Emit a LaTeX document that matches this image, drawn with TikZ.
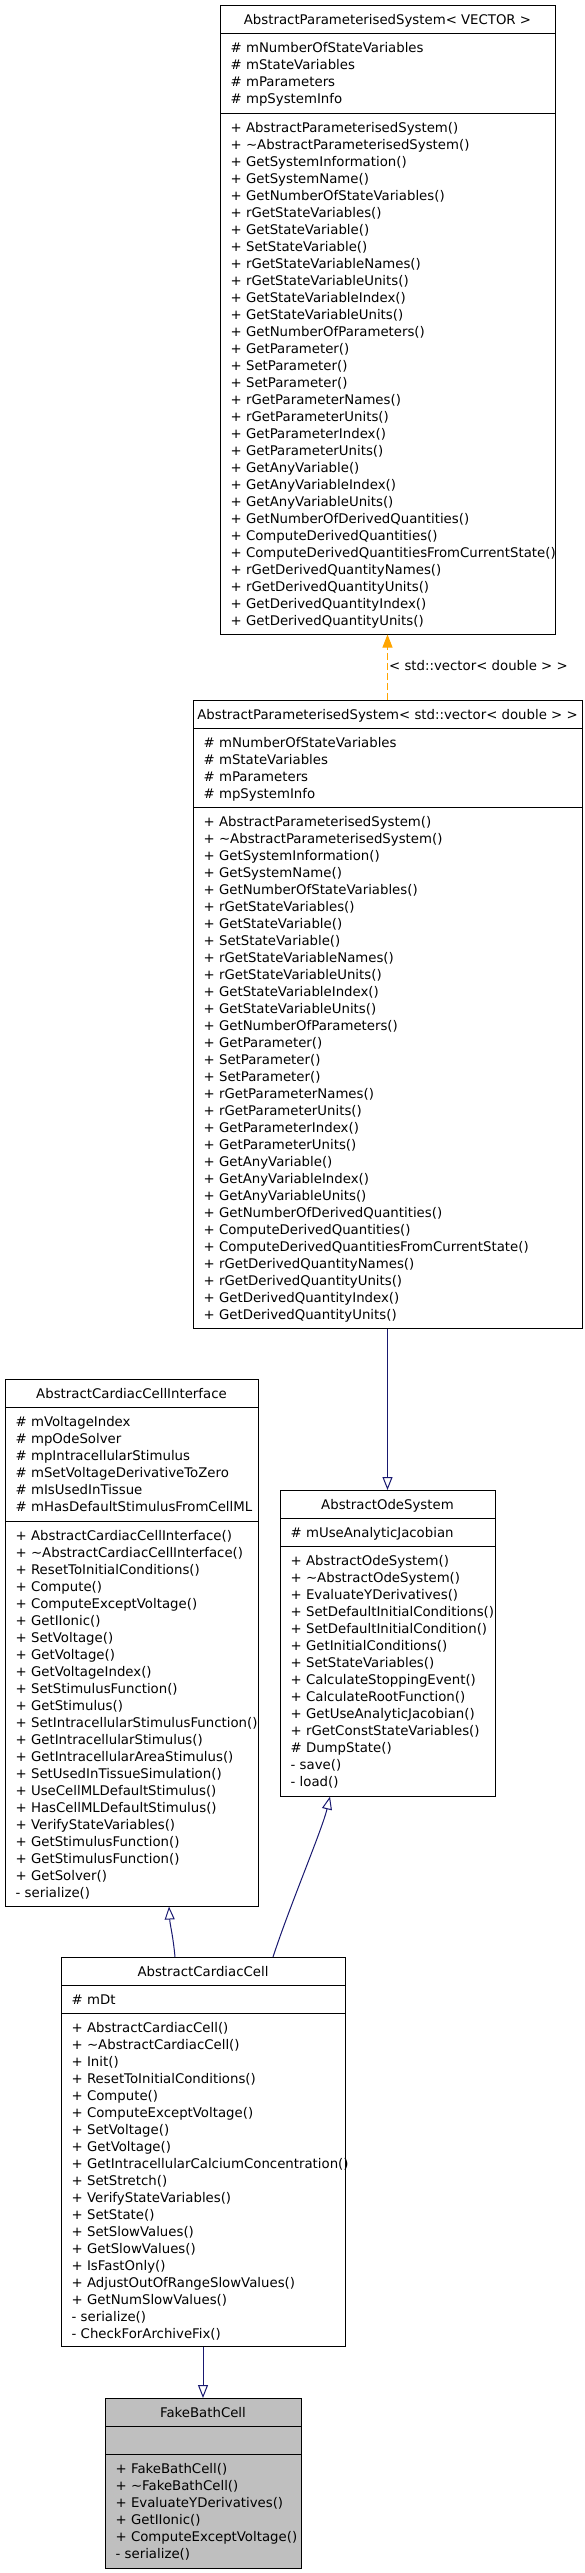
\documentclass[tikz,border=0pt]{standalone}
\usepackage{fontspec}
\setmainfont{DejaVu Sans}
\usetikzlibrary{arrows.meta}
\definecolor{inhblue}{HTML}{191970}
\definecolor{tmplorange}{HTML}{FFA500}
\definecolor{fakegray}{HTML}{BFBFBF}
\tikzset{
  classbox/.style={draw=black, line width=1pt, fill=white, inner sep=0pt, outer sep=0pt, anchor=north west},
  txt/.style={inner sep=0pt, font=\fontsize{13.3}{17}\selectfont, text=black},
  inherit/.style={draw=inhblue, line width=1pt, -{Triangle[open,length=13pt,width=10pt]}},
  tmplinst/.style={draw=tmplorange, line width=1pt, dash pattern=on 7pt off 3pt, -{Triangle[length=13pt,width=10pt,fill=tmplorange]}},
  sepline/.style={draw=black, line width=1pt},
}
\newcommand{\umllines}[4]{%
  \foreach \t [count=\i] in {#4} {\node[txt, anchor=base west] (#1\i) at (#2, {#3+17*(\i-1)}) {\t};}}
\begin{document}
\begin{tikzpicture}[x=1pt,y=-1pt]
\useasboundingbox (0,0) rectangle (585,2573);

% ---------- Box A: AbstractParameterisedSystem< VECTOR >
\node[classbox, minimum width=335pt, minimum height=629pt] (A) at (220,5.5) {};
\draw[sepline] (220,33.5) -- (555,33.5);
\draw[sepline] (220,113.5) -- (555,113.5);
\node[txt, anchor=base] (At) at (387.5,24.5) {AbstractParameterisedSystem< VECTOR >};
\umllines{Aa}{230.5}{52.5}{\# mNumberOfStateVariables, \# mStateVariables, \# mParameters, \# mpSystemInfo}
\umllines{Am}{230.5}{132.5}{+ AbstractParameterisedSystem(), + \textasciitilde AbstractParameterisedSystem(), + GetSystemInformation(), + GetSystemName(), + GetNumberOfStateVariables(), + rGetStateVariables(), + GetStateVariable(), + SetStateVariable(), + rGetStateVariableNames(), + rGetStateVariableUnits(), + GetStateVariableIndex(), + GetStateVariableUnits(), + GetNumberOfParameters(), + GetParameter(), + SetParameter(), + SetParameter(), + rGetParameterNames(), + rGetParameterUnits(), + GetParameterIndex(), + GetParameterUnits(), + GetAnyVariable(), + GetAnyVariableIndex(), + GetAnyVariableUnits(), + GetNumberOfDerivedQuantities(), + ComputeDerivedQuantities(), + ComputeDerivedQuantitiesFromCurrentState(), + rGetDerivedQuantityNames(), + rGetDerivedQuantityUnits(), + GetDerivedQuantityIndex(), + GetDerivedQuantityUnits()}

% ---------- Box B: AbstractParameterisedSystem< std::vector< double > >
\node[classbox, minimum width=389pt, minimum height=628.5pt] (B) at (193,700) {};
\draw[sepline] (193,728) -- (582,728);
\draw[sepline] (193,807) -- (582,807);
\node[txt, anchor=base] (Bt) at (387.5,719) {AbstractParameterisedSystem< std::vector< double > >};
\umllines{Ba}{203.5}{747}{\# mNumberOfStateVariables, \# mStateVariables, \# mParameters, \# mpSystemInfo}
\umllines{Bm}{203.5}{826}{+ AbstractParameterisedSystem(), + \textasciitilde AbstractParameterisedSystem(), + GetSystemInformation(), + GetSystemName(), + GetNumberOfStateVariables(), + rGetStateVariables(), + GetStateVariable(), + SetStateVariable(), + rGetStateVariableNames(), + rGetStateVariableUnits(), + GetStateVariableIndex(), + GetStateVariableUnits(), + GetNumberOfParameters(), + GetParameter(), + SetParameter(), + SetParameter(), + rGetParameterNames(), + rGetParameterUnits(), + GetParameterIndex(), + GetParameterUnits(), + GetAnyVariable(), + GetAnyVariableIndex(), + GetAnyVariableUnits(), + GetNumberOfDerivedQuantities(), + ComputeDerivedQuantities(), + ComputeDerivedQuantitiesFromCurrentState(), + rGetDerivedQuantityNames(), + rGetDerivedQuantityUnits(), + GetDerivedQuantityIndex(), + GetDerivedQuantityUnits()}

% ---------- AbstractCardiacCellInterface
\node[classbox, minimum width=253pt, minimum height=527pt] (I) at (5,1379.5) {};
\draw[sepline] (5,1407.5) -- (258,1407.5);
\draw[sepline] (5,1521) -- (258,1521);
\node[txt, anchor=base] (It) at (131.5,1398.5) {AbstractCardiacCellInterface};
\umllines{Ia}{15.5}{1426.5}{\# mVoltageIndex, \# mpOdeSolver, \# mpIntracellularStimulus, \# mSetVoltageDerivativeToZero, \# mIsUsedInTissue, \# mHasDefaultStimulusFromCellML}
\umllines{Im}{15.5}{1540}{+ AbstractCardiacCellInterface(), + \textasciitilde AbstractCardiacCellInterface(), + ResetToInitialConditions(), + Compute(), + ComputeExceptVoltage(), + GetIIonic(), + SetVoltage(), + GetVoltage(), + GetVoltageIndex(), + SetStimulusFunction(), + GetStimulus(), + SetIntracellularStimulusFunction(), + GetIntracellularStimulus(), + GetIntracellularAreaStimulus(), + SetUsedInTissueSimulation(), + UseCellMLDefaultStimulus(), + HasCellMLDefaultStimulus(), + VerifyStateVariables(), + GetStimulusFunction(), + GetStimulusFunction(), + GetSolver(), - serialize()}

% ---------- AbstractOdeSystem
\node[classbox, minimum width=215pt, minimum height=306.5pt] (O) at (280,1490) {};
\draw[sepline] (280,1518) -- (495,1518);
\draw[sepline] (280,1546.5) -- (495,1546.5);
\node[txt, anchor=base] (Ot) at (387.5,1509) {AbstractOdeSystem};
\umllines{Oa}{290.5}{1537}{\# mUseAnalyticJacobian}
\umllines{Om}{290.5}{1565.5}{+ AbstractOdeSystem(), + \textasciitilde AbstractOdeSystem(), + EvaluateYDerivatives(), + SetDefaultInitialConditions(), + SetDefaultInitialCondition(), + GetInitialConditions(), + SetStateVariables(), + CalculateStoppingEvent(), + CalculateRootFunction(), + GetUseAnalyticJacobian(), + rGetConstStateVariables(), \# DumpState(), - save(), - load()}

% ---------- AbstractCardiacCell
\node[classbox, minimum width=284pt, minimum height=389.5pt] (C) at (61,1957) {};
\draw[sepline] (61,1985) -- (345,1985);
\draw[sepline] (61,2013.5) -- (345,2013.5);
\node[txt, anchor=base] (Ct) at (203,1976) {AbstractCardiacCell};
\umllines{Ca}{71.5}{2004}{\# mDt}
\umllines{Cm}{71.5}{2032.5}{+ AbstractCardiacCell(), + \textasciitilde AbstractCardiacCell(), + Init(), + ResetToInitialConditions(), + Compute(), + ComputeExceptVoltage(), + SetVoltage(), + GetVoltage(), + GetIntracellularCalciumConcentration(), + SetStretch(), + VerifyStateVariables(), + SetState(), + SetSlowValues(), + GetSlowValues(), + IsFastOnly(), + AdjustOutOfRangeSlowValues(), + GetNumSlowValues(), - serialize(), - CheckForArchiveFix()}

% ---------- FakeBathCell
\node[classbox, fill=fakegray, minimum width=196pt, minimum height=170pt] (F) at (105,2398) {};
\draw[sepline] (105,2426) -- (301,2426);
\draw[sepline] (105,2454) -- (301,2454);
\node[txt, anchor=base] (Ft) at (203,2417) {FakeBathCell};
\umllines{Fm}{115.5}{2473}{+ FakeBathCell(), + \textasciitilde FakeBathCell(), + EvaluateYDerivatives(), + GetIIonic(), + ComputeExceptVoltage(), - serialize()}

% ---------- connectors
\coordinate (Iin) at (169,1906.5);
\coordinate (Cout1) at (175,1957);
\coordinate (Oin) at (330,1796.5);
\coordinate (Cout2) at (273,1957);

\draw[tmplinst] (B.north) -- (A.south);
\node[txt, anchor=west] (lbl) at (389,665.5) {< std::vector< double > >};
\draw[inherit] (B.south) -- (O.north);
\draw[inherit] (Cout1) .. controls (173,1935) and (170,1925) .. (Iin);
\draw[inherit] (Cout2) .. controls (290,1905) and (322,1830) .. (Oin);
\draw[inherit] (C.south) -- (F.north);
\end{tikzpicture}
\end{document}
